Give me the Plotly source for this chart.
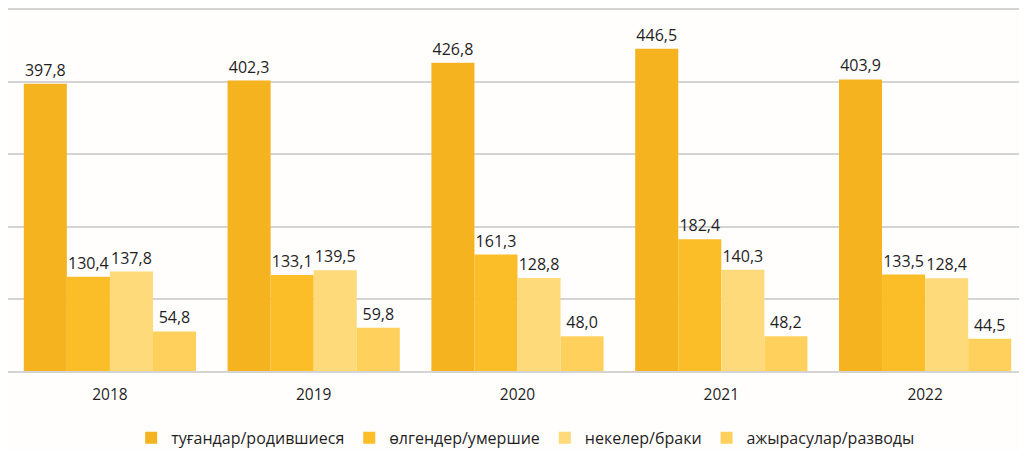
import plotly.graph_objects as go

years = ["2018", "2019", "2020", "2021", "2022"]
births = [397.8, 402.3, 426.8, 446.5, 403.9]
deaths = [130.4, 133.1, 161.3, 182.4, 133.5]
marriages = [137.8, 139.5, 128.8, 140.3, 128.4]
divorces = [54.8, 59.8, 48.0, 48.2, 44.5]

names = ["туғандар/родившиеся", "өлгендер/умершие", "некелер/браки", "ажырасулар/разводы"]
colors = ["#F5B320", "#FBBD28", "#FEDA7B", "#FFD15C"]
series = [births, deaths, marriages, divorces]

GRID = "#D4D4D4"

fig = go.Figure()
for name, vals, col in zip(names, series, colors):
    fig.add_trace(go.Bar(
        x=years, y=vals, name=name,
        marker=dict(color=col, line=dict(width=0)),
        text=[f"{v:.1f}".replace(".", ",") for v in vals],
        textposition="outside",
        textfont=dict(size=16, color="#1f1f1f"),
        cliponaxis=False,
    ))

fig.update_layout(
    width=1019, height=443,
    margin=dict(l=0, r=0, t=2, b=80, autoexpand=False),
    barmode="group", bargap=0.155, bargroupgap=0,
    paper_bgcolor="#FFFEFD", plot_bgcolor="#FFFEFD",
    font=dict(family="Open Sans, Noto Sans, sans-serif", size=15, color="#1f1f1f"),
    showlegend=True,
    legend=dict(orientation="h", x=0.508, xanchor="center", y=-0.185, yanchor="middle",
                font=dict(size=16), itemwidth=30, traceorder="normal"),
    xaxis=dict(showline=True, mirror=True, linecolor=GRID, linewidth=1.5,
               ticks="outside", ticklen=9, tickcolor="rgba(0,0,0,0)",
               tickfont=dict(size=15.5), showgrid=False),
    yaxis=dict(range=[0, 500], tickvals=[100, 200, 300, 400], showgrid=True,
               gridcolor=GRID, gridwidth=1.5, showticklabels=False,
               zeroline=False, showline=False),
)

fig.write_html("out.html")
